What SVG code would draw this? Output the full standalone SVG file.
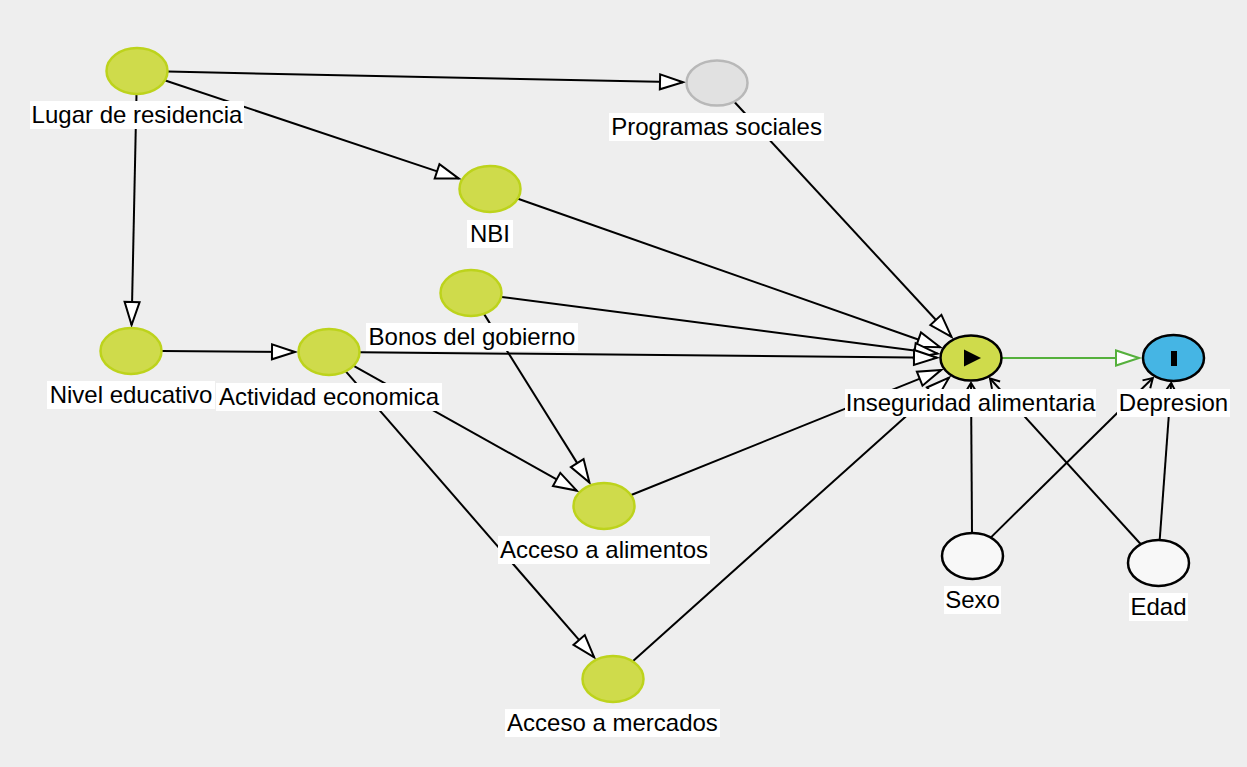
<svg xmlns="http://www.w3.org/2000/svg" width="1247" height="767" viewBox="0 0 1247 767">
<style>
.e{stroke:#000;stroke-width:2;fill:none}
.a{marker-end:url(#arr)}
.c{marker-end:url(#chev)}
.g{stroke:#55b03c;stroke-width:2;fill:none;marker-end:url(#garr)}
.n{fill:#cfdb4b;stroke:#bdd31c;stroke-width:2.5}
.x{fill:#cfdb4b;stroke:#000;stroke-width:2.5}
.o{fill:#45b5e4;stroke:#000;stroke-width:2.5}
.u{fill:#e1e1e1;stroke:#b8b8b8;stroke-width:2.5}
.w{fill:#f8f8f8;stroke:#000;stroke-width:2.5}
.lb{fill:#fff}
.t{font-family:"Liberation Sans",Arial,sans-serif;font-size:24px;fill:#000;text-anchor:middle}
</style>
<defs>
<marker id="arr" markerUnits="userSpaceOnUse" markerWidth="30" markerHeight="20" viewBox="-26 -10 30 20" refX="0" refY="0" orient="auto">
<path d="M0,0 L-23,-7.5 L-23,7.5 Z" fill="#fff" stroke="#000" stroke-width="2"/>
</marker>
<marker id="garr" markerUnits="userSpaceOnUse" markerWidth="30" markerHeight="20" viewBox="-26 -10 30 20" refX="0" refY="0" orient="auto">
<path d="M0,0 L-23,-7.5 L-23,7.5 Z" fill="#fff" stroke="#55b03c" stroke-width="2"/>
</marker>
<marker id="chev" markerUnits="userSpaceOnUse" markerWidth="16" markerHeight="16" viewBox="-12 -8 16 16" refX="0" refY="0" orient="auto">
<path d="M-9,-5.5 L0,0 L-9,5.5" fill="none" stroke="#000" stroke-width="2"/>
</marker>
</defs>
<rect x="0" y="0" width="1247" height="767" fill="#eeeeee"/>
<g id="connectors">
<line class="e a" x1="168" y1="71.6" x2="683" y2="82.3"/>
<line class="e a" x1="165.3" y1="80.5" x2="458.9" y2="178.6"/>
<line class="e a" x1="136.5" y1="94" x2="131.6" y2="325"/>
<line class="e a" x1="162" y1="351" x2="295" y2="352"/>
<line class="e a" x1="734.5" y1="102" x2="951.5" y2="336.8"/>
<line class="e a" x1="518" y1="198.8" x2="940.2" y2="347.2"/>
<line class="e a" x1="501.5" y1="297" x2="937.5" y2="353.6"/>
<line class="e a" x1="484" y1="313.9" x2="589.4" y2="482.6"/>
<line class="e a" x1="360" y1="352.2" x2="937" y2="357.7"/>
<line class="e a" x1="353.7" y1="365.9" x2="576.7" y2="490.6"/>
<line class="e a" x1="345.8" y1="371.3" x2="594.2" y2="657.4"/>
<line class="e a" x1="631.2" y1="495" x2="941" y2="370.1"/>
<line class="e a" x1="632.8" y1="661.3" x2="949" y2="377.7"/>
<line class="g" x1="1002" y1="358" x2="1139" y2="358"/>
<line class="e c" x1="972" y1="533" x2="971" y2="383"/>
<line class="e c" x1="1140.6" y1="544" x2="990" y2="378.5"/>
<line class="e c" x1="990.7" y1="537.6" x2="1152.8" y2="378"/>
<line class="e c" x1="1159.7" y1="540" x2="1171.2" y2="383"/>
</g>
<g id="n-lugar"><ellipse class="n" cx="137" cy="71" rx="30.5" ry="23"/><rect class="lb" x="30" y="101" width="214" height="28"/><text class="t" x="137" y="123">Lugar de residencia</text></g>
<g id="n-programas"><ellipse class="u" cx="717" cy="83" rx="30.5" ry="22.5"/><rect class="lb" x="609" y="113" width="215" height="28"/><text class="t" x="716.5" y="135">Programas sociales</text></g>
<g id="n-nbi"><ellipse class="n" cx="490" cy="189" rx="30.5" ry="23"/><rect class="lb" x="467" y="220" width="46" height="28"/><text class="t" x="490" y="242">NBI</text></g>
<g id="n-bonos"><ellipse class="n" cx="471" cy="293" rx="30.5" ry="23"/><rect class="lb" x="366" y="323" width="212" height="28"/><text class="t" x="472" y="345">Bonos del gobierno</text></g>
<g id="n-nivel"><ellipse class="n" cx="131" cy="351" rx="30.5" ry="23"/><rect class="lb" x="47" y="381" width="168" height="28"/><text class="t" x="131" y="403">Nivel educativo</text></g>
<g id="n-actividad"><ellipse class="n" cx="329" cy="352" rx="30.5" ry="23"/><rect class="lb" x="216" y="383" width="226" height="28"/><text class="t" x="329" y="405">Actividad economica</text></g>
<g id="n-alimentos"><ellipse class="n" cx="604" cy="506" rx="30.5" ry="23"/><rect class="lb" x="498" y="536" width="212" height="28"/><text class="t" x="604" y="558">Acceso a alimentos</text></g>
<g id="n-mercados"><ellipse class="n" cx="613" cy="679" rx="30.5" ry="23"/><rect class="lb" x="505" y="709" width="215" height="28"/><text class="t" x="612.5" y="731">Acceso a mercados</text></g>
<g id="n-inseguridad"><ellipse class="x" cx="971" cy="358" rx="30.5" ry="22.5"/><path d="M964,349.5 L981,358 L964,366.5 Z" fill="#000"/><rect class="lb" x="845" y="389" width="251" height="28"/><text class="t" x="970.5" y="411">Inseguridad alimentaria</text></g>
<g id="n-depresion"><ellipse class="o" cx="1173.5" cy="358" rx="30.5" ry="23"/><rect x="1171" y="351" width="6" height="15" fill="#000"/><rect class="lb" x="1117" y="389" width="113" height="28"/><text class="t" x="1173.5" y="411">Depresion</text></g>
<g id="n-sexo"><ellipse class="w" cx="972.5" cy="556" rx="30.5" ry="23"/><rect class="lb" x="944" y="586" width="57" height="28"/><text class="t" x="972.5" y="608">Sexo</text></g>
<g id="n-edad"><ellipse class="w" cx="1158.5" cy="563" rx="30.5" ry="23"/><rect class="lb" x="1129" y="593" width="59" height="28"/><text class="t" x="1158.5" y="615">Edad</text></g>
</svg>
